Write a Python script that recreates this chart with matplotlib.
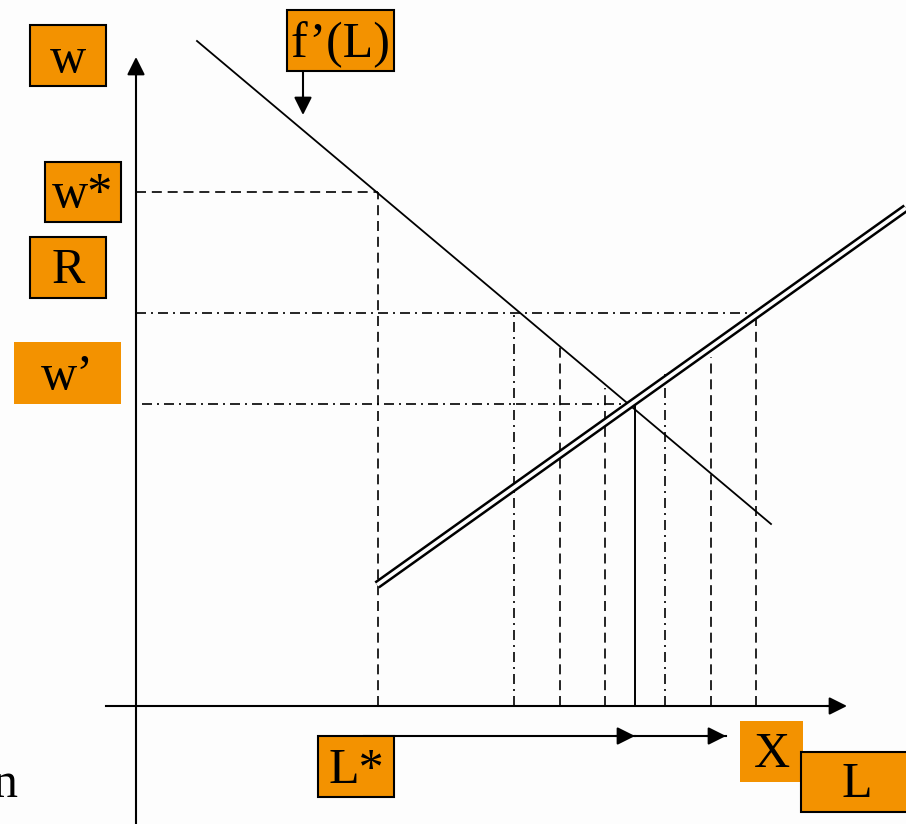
import matplotlib.pyplot as plt
from matplotlib.patches import Rectangle

# diagram units: origin where the two axes cross, L to the right, w upwards
demand_L = [61, 635]          # f'(L)
demand_w = [665, 182]
supply_L = [241, 770]         # double line
supply_w = [121, 498]

w_star = 514
R = 393
w_prime = 302
L_star = 242
L_eq = 499

# vertical guides: (L, top w, style)
guides_L = [242, 378, 424, 469, 529, 575, 620]
guides_top = [w_star, R, 363, 318, 332, 349, R]
guides_style = ["dash", "dashdot", "dash", "dash", "dashdot", "dash", "dash"]

# arrows below the L axis
shift_L = [228, 499, 590]
shift_w = -30

# label boxes in pixel coords of the original slide: x0, y0, x1, y1, baseline
labels = ["w", "f\u2019(L)", "w*", "R", "w\u2019", "L*", "X", "L"]
boxes = [(30, 25, 106, 86, 72), (287, 10, 394, 71, 57), (45, 162, 121, 222, 207),
         (30, 237, 106, 298, 283), (14, 342, 121, 404, 389), (318, 736, 394, 797, 783),
         (740, 721, 803, 782, 767), (801, 752, 912, 812, 797)]
edged = [True, True, True, True, False, True, False, True]

ORANGE = "#F39200"
OX, OY = 136, 706   # pixel position of the origin
dash = (0, (6, 3.5))
dashdot = (0, (6, 3, 1.2, 3))

fig = plt.figure(figsize=(9.06, 8.24), dpi=100, facecolor="#fdfdfd")
ax = fig.add_axes([0, 0, 1, 1])
ax.set_xlim(-OX, 906 - OX)
ax.set_ylim(OY - 824, OY)
ax.axis("off")
ax.set_facecolor("#fdfdfd")


def arrow(x0, y0, x1, y1, lw=1.5):
    ax.annotate("", xy=(x1, y1), xytext=(x0, y0),
                arrowprops=dict(arrowstyle="-|>,head_length=0.8,head_width=0.4",
                                mutation_scale=13.5, lw=lw, color="black",
                                shrinkA=0, shrinkB=0))


# axes
ax.plot([0, 0], [OY - 824, 640], color="black", lw=1.5)
arrow(0, 630, 0, 649)
ax.plot([-30, 700], [0, 0], color="black", lw=1.5)
arrow(690, 0, 711, 0)

# horizontal guides
ax.plot([0, L_star], [w_star, w_star], color="black", lw=1.2, ls=dash)
ax.plot([0, guides_L[-1]], [R, R], color="black", lw=1.2, ls=dashdot)
ax.plot([6, L_eq], [w_prime, w_prime], color="black", lw=1.2, ls=dashdot)

# vertical guides
for L, top, st in zip(guides_L, guides_top, guides_style):
    ax.plot([L, L], [0, top], color="black", lw=1.2,
            ls=dash if st == "dash" else dashdot)
ax.plot([L_eq, L_eq], [0, w_prime], color="black", lw=1.4)

# curves
ax.plot(demand_L, demand_w, color="black", lw=1.3)
ax.plot(supply_L, supply_w, color="black", lw=6.2, solid_capstyle="butt")
ax.plot(supply_L, supply_w, color="#fdfdfd", lw=2.6, solid_capstyle="butt")

# arrows under the axis
ax.plot([shift_L[0], shift_L[1]], [shift_w, shift_w], color="black", lw=1.5)
arrow(shift_L[1] - 20, shift_w, shift_L[1], shift_w)
ax.plot([shift_L[1], shift_L[2]], [shift_w, shift_w], color="black", lw=1.5)
arrow(shift_L[2] - 20, shift_w, shift_L[2], shift_w)

# arrow from f'(L) label to the curve
ax.plot([303 - OX, 303 - OX], [OY - 71, OY - 100], color="black", lw=1.5)
arrow(303 - OX, OY - 95, 303 - OX, OY - 115)

# label boxes
for text, (x0, y0, x1, y1, base), e in zip(labels, boxes, edged):
    ax.add_patch(Rectangle((x0 - OX, OY - y1), x1 - x0, y1 - y0,
                           facecolor=ORANGE,
                           edgecolor="black" if e else "none",
                           lw=1.5, zorder=5))
    ax.text((x0 + x1) / 2 - OX, OY - base, text, ha="center", va="baseline",
            fontsize=36, family="Liberation Serif", zorder=6)

# stray letter at the bottom-left edge of the slide (cut off there too)
ax.text(18 - OX, OY - 797, "n", ha="right", va="baseline",
        fontsize=36, family="Liberation Serif")

fig.savefig("out.png", dpi=100, facecolor=fig.get_facecolor())
